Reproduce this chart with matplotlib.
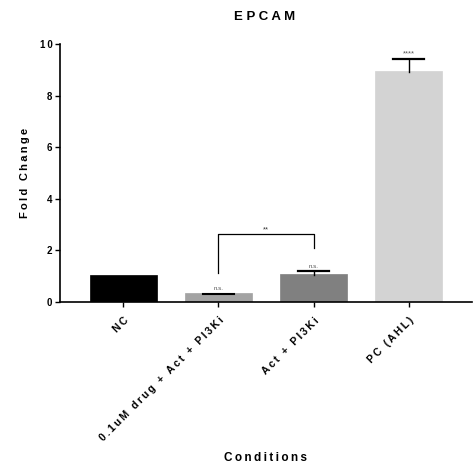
import matplotlib
matplotlib.use("Agg")
import matplotlib.pyplot as plt
import numpy as np

plt.rcParams['font.family'] = ['Liberation Sans', 'DejaVu Sans']

categories = ["NC", "0.1uM drug + Act + PI3Ki", "Act + PI3Ki", "PC (AHL)"]
values = [1.05, 0.35, 1.10, 8.97]
err_up = [0.0, 0.0, 0.11, 0.46]
colors = ["#000000", "#a3a3a3", "#808080", "#d3d3d3"]
sig_labels = ["", "n.s.", "n.s.", "****"]
yticks = [0, 2, 4, 6, 8, 10]
bracket = (1, 2, 2.62, 1.11, 2.08, "**")

def spaced(s, sep=" "):
    return sep.join(list(s))

fig = plt.figure(figsize=(4.77, 4.68), dpi=100)
ax = fig.add_axes([60/477, 1-302/468, (472-60)/477, (302-44)/468])

x = np.arange(len(categories))
ax.bar(x, values, width=0.705, color=colors, edgecolor=colors, linewidth=0.5, zorder=2)
half_cap = 0.165
for xi, v, e in zip(x, values, err_up):
    if e > 0:
        ax.plot([xi, xi], [v - 0.06, v + e], color='black', lw=1.0, zorder=3)
        ax.plot([xi - half_cap, xi + half_cap], [v + e, v + e], color='black', lw=1.6, zorder=3)
# small error on bar 2 (cap drawn on the bar)
ax.plot([x[1]-half_cap, x[1]+half_cap], [values[1]-0.03, values[1]-0.03], color='black', lw=1.5, zorder=3)

for xi, v, e, s in zip(x, values, err_up, sig_labels):
    if s:
        top = v + e if e > 0 else v
        fs = 4.5 if s == "n.s." else 5.5
        ax.text(xi, top + 0.06, s, ha='center', va='bottom', fontsize=fs, color='#555555')

i, j, ytop, yl, yr, lab = bracket
ax.plot([x[i], x[i], x[j], x[j]], [yl, ytop, ytop, yr], color='black', lw=0.9, zorder=3)
ax.text((x[i]+x[j])/2, ytop + 0.02, lab, ha='center', va='bottom', fontsize=5.5, color='#333333')

ax.set_xlim(-0.668, 3.668)
ax.set_ylim(0, 10)
ax.set_yticks(yticks)
ax.set_yticklabels([spaced(str(t), "\u2009") for t in yticks], fontsize=7, fontweight='bold')
ax.set_xticks(x)
ax.set_xticklabels([spaced(c, "\u2009") for c in categories], rotation=45, ha='right',
                   rotation_mode='anchor', fontsize=7.5, fontweight='bold')
for sp in ['top', 'right']:
    ax.spines[sp].set_visible(False)
for sp in ['left', 'bottom']:
    ax.spines[sp].set_linewidth(1.2)
ax.tick_params(axis='both', length=3.5, width=1.0, pad=2)
ax.tick_params(axis='x', pad=6)

ax.set_ylabel(spaced("Fold Change", "\u2009"), fontsize=8, fontweight='bold', labelpad=7)
ax.set_xlabel(spaced("Conditions", "\u2009"), fontsize=8.5, fontweight='bold')
ax.xaxis.set_label_coords(0.5, -0.58)
fig.text(265/477, 1-16.5/468, spaced("EPCAM", " "), ha='center', va='center', fontsize=9.5, fontweight='bold')

fig.savefig("out.png", dpi=100)
